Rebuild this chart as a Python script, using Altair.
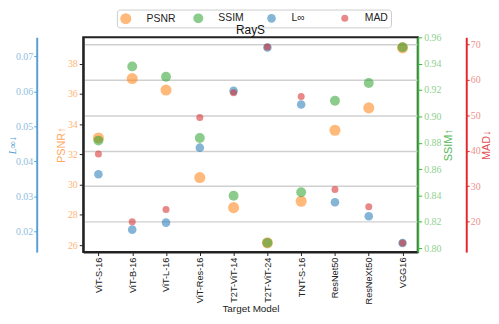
import altair as alt
import pandas as pd

models = ["ViT-S-16", "ViT-B-16", "ViT-L-16", "ViT-Res-16", "T2T-ViT-14",
          "T2T-ViT-24", "TNT-S-16", "ResNet50", "ResNeXt50", "VGG16"]
psnr = [33.09, 37.02, 36.26, 30.47, 28.48, 26.15, 28.90, 33.60, 35.08, 39.05]
ssim = [0.8816, 0.9379, 0.9301, 0.8836, 0.8397, 0.8040, 0.8424, 0.9118, 0.9253, 0.9525]
linf = [0.0363, 0.0205, 0.0225, 0.0439, 0.0601, 0.0725, 0.0562, 0.0283, 0.0243, 0.0167]
mad = [39.1, 20.0, 23.4, 49.4, 56.4, 69.3, 55.3, 29.1, 24.2, 14.0]

metric_names = ["PSNR", "SSIM", "L∞", "MAD"]
metric_colors = ["#ff7f0e", "#2ca02c", "#1f77b4", "#d62728"]
metric_sizes = [125, 50, 30, 14]

psnr_ticks = [26, 28, 30, 32, 34, 36, 38]
ssim_ticks = [0.80, 0.82, 0.84, 0.86, 0.88, 0.90, 0.92, 0.94, 0.96]
linf_ticks = [0.02, 0.03, 0.04, 0.05, 0.06, 0.07]
mad_ticks = [20, 30, 40, 50, 60, 70]

rows = []
for name, vals in zip(metric_names, [psnr, ssim, linf, mad]):
    for m, v in zip(models, vals):
        rows.append({"model": m, "metric": name, "value": v})
df = pd.DataFrame(rows)

SERIF = "Liberation Serif"
SANS = "Liberation Sans"

legend = alt.Legend(
    orient="none", legendX=34, legendY=-28, direction="horizontal", title=None,
    strokeColor="#cccccc", cornerRadius=3, padding=3, fillColor="white",
    labelFont=SANS, labelFontSize=10.5, labelColor="#222222",
    symbolType="circle", symbolOpacity=0.55, symbolStrokeWidth=0,
    gridAlign="all", columnPadding=17, labelOffset=15,
)

color = alt.Color("metric:N", scale=alt.Scale(domain=metric_names, range=metric_colors), legend=legend)
size = alt.Size("metric:N", scale=alt.Scale(domain=metric_names, range=metric_sizes), legend=legend)

x = alt.X("model:N", sort=models, scale=alt.Scale(type="point", padding=0.45),
          axis=alt.Axis(title="Target Model", labelAngle=270, labelAlign="right",
                        labelBaseline="middle", labelFont=SANS, labelFontSize=9.3,
                        labelColor="#222222", titleFont=SANS, titleFontSize=10,
                        titleFontWeight="normal", titleColor="#222222",
                        domainColor="#222222", domainWidth=2, tickColor="#222222",
                        tickSize=3.5, grid=False, labelPadding=1.5, titlePadding=0))

base = alt.Chart(df)

def layer(name, scale, axis):
    return base.transform_filter(alt.datum.metric == name).mark_circle(opacity=0.55).encode(
        x=x,
        y=alt.Y("value:Q", scale=scale, axis=axis),
        color=color,
        size=size,
    )

common = dict(labelFont=SERIF, labelFontSize=10, titleFontWeight="normal")

psnr_layer = layer("PSNR", alt.Scale(domain=[25.54, 39.75], nice=False, zero=False),
                   alt.Axis(orient="left", values=psnr_ticks, format="d", title="PSNR↑",
                            labelColor="#ffb475", titleColor="#ffa860", domainColor="#222222",
                            domainWidth=2, tickColor="#222222", grid=False, titlePadding=1,
                            tickSize=4, labelPadding=2, titleFont=SANS, titleFontSize=11,
                            **common))
ssim_layer = layer("SSIM", alt.Scale(domain=[0.797, 0.960], nice=False, zero=False),
                   alt.Axis(orient="right", values=ssim_ticks, format=".2f", title="SSIM↑",
                            labelColor="#8fd08f", titleColor="#55b855", domainColor="#3cb43c",
                            domainWidth=2, tickColor="#3cb43c", grid=False, titleAngle=270,
                            titleBaseline="top", titlePadding=2, tickSize=4, labelPadding=2,
                            titleFont=SANS, titleFontSize=11, **common))
linf_layer = layer("L∞", alt.Scale(domain=[0.0141, 0.0754], nice=False, zero=False),
                   alt.Axis(orient="left", offset=47, values=linf_ticks, format=".2f",
                            title="L∞↓", labelColor="#8fbde0", titleColor="#5a9fd4",
                            domainColor="#5a9fd4", domainWidth=2, tickColor="#5a9fd4",
                            grid=False, titleFontStyle="italic", titleFont=SERIF,
                            titleFontSize=10.5, titleBaseline="alphabetic", titlePadding=0,
                            tickSize=3, labelPadding=1, **common))
mad_layer = layer("MAD", alt.Scale(domain=[11.41, 72.04], nice=False, zero=False),
                  alt.Axis(orient="right", offset=49, values=mad_ticks, format="d",
                           title="MAD↓", labelColor="#ee9090", titleColor="#e05555",
                           domainColor="#e6262a", domainWidth=2, tickColor="#e6262a",
                           grid=True, gridColor="#d0d0d0", gridWidth=1.5, titleAngle=270,
                           titleBaseline="top", titlePadding=0, tickSize=3, labelPadding=1,
                           titleFont=SANS, titleFontSize=11, **common))

chart = alt.layer(psnr_layer, ssim_layer, linf_layer, mad_layer).resolve_scale(
    y="independent"
).properties(
    width=338, height=217,
    title=alt.TitleParams("RayS", font=SANS, fontSize=12, fontWeight="normal",
                          color="#111111", offset=-28.5),
    autosize=alt.AutoSizeParams(type="none"),
    padding={"left": 76, "top": 28, "right": 74, "bottom": 63},
).configure_view(stroke="#222222", strokeWidth=2)

chart.save("out.html", embed_options={"renderer": "svg", "actions": False})
